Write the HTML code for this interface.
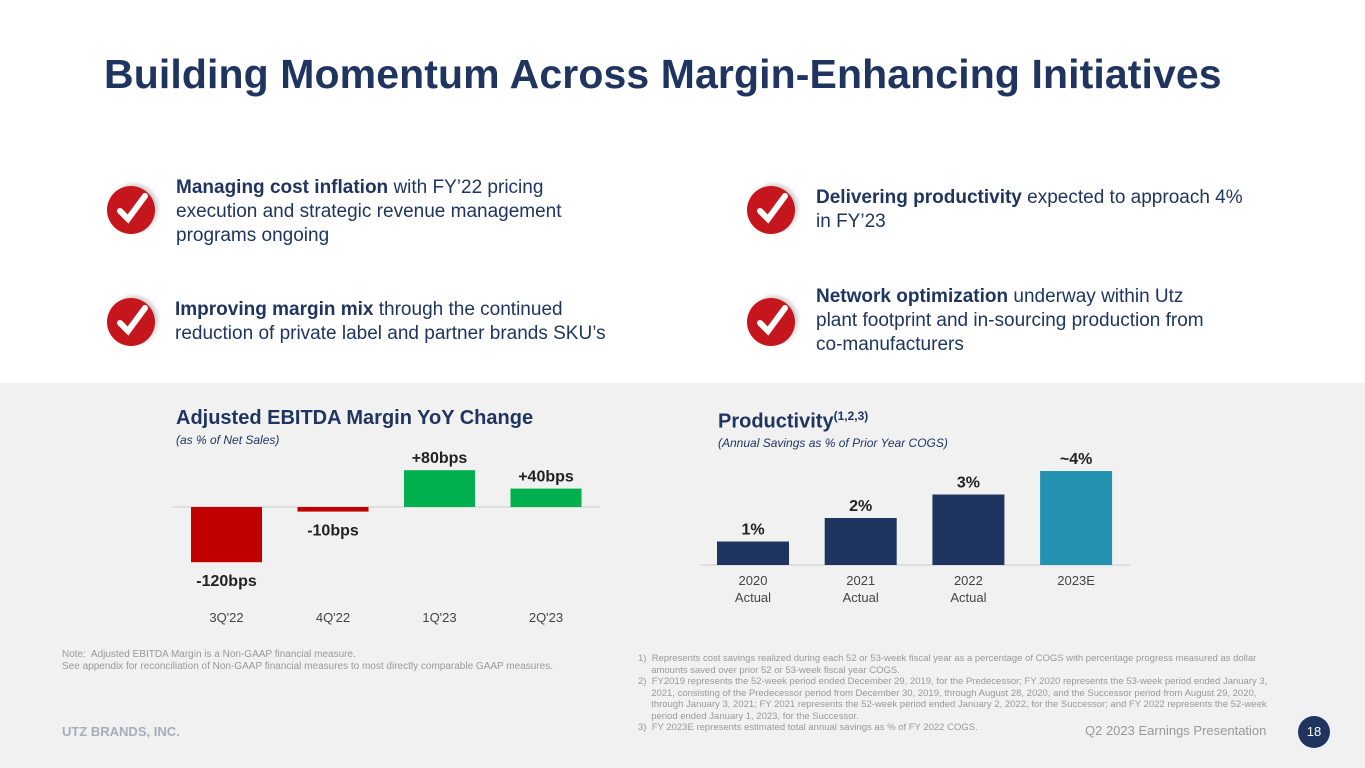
<!DOCTYPE html>
<html><head><meta charset="utf-8"><style>
body{margin:0;width:1365px;height:768px;position:relative;overflow:hidden;font-family:"Liberation Sans",sans-serif;background:#fff}
.abs{position:absolute}
.t{color:#1f3560}
.chk{position:absolute;width:48px;height:48px;border-radius:50%;background:#c4161c;box-shadow:3px -2px 4px rgba(0,0,0,.2)}
.txt{position:absolute;font-size:19px;line-height:24px;color:#1f3560}
.txt b{font-weight:bold}
.fn{position:absolute;font-size:9px;color:#999;line-height:11.5px}
</style></head><body>
<div class="abs t" style="left:104px;top:51px;font-size:41px;font-weight:bold;color:#1f3560;letter-spacing:0.1px">Building Momentum Across Margin-Enhancing Initiatives</div>

<div class="chk" style="left:107px;top:186px"><svg width="48" height="48"><path d="M13 25 L21 33 L38 10" stroke="#fff" stroke-width="6" fill="none" stroke-linecap="round"/></svg></div>
<div class="chk" style="left:107px;top:298px"><svg width="48" height="48"><path d="M13 25 L21 33 L38 10" stroke="#fff" stroke-width="6" fill="none" stroke-linecap="round"/></svg></div>
<div class="chk" style="left:747px;top:186px"><svg width="48" height="48"><path d="M13 25 L21 33 L38 10" stroke="#fff" stroke-width="6" fill="none" stroke-linecap="round"/></svg></div>
<div class="chk" style="left:747px;top:298px"><svg width="48" height="48"><path d="M13 25 L21 33 L38 10" stroke="#fff" stroke-width="6" fill="none" stroke-linecap="round"/></svg></div>

<div class="txt" style="left:176px;top:176px;width:440px"><b>Managing cost inflation</b> with FY’22 pricing<br>execution and strategic revenue management<br>programs ongoing</div>
<div class="txt" style="left:175px;top:298px;width:520px"><b>Improving margin mix</b> through the continued<br>reduction of private label and partner brands SKU’s</div>
<div class="txt" style="left:816px;top:186px;width:500px"><b>Delivering productivity</b> expected to approach 4%<br>in FY’23</div>
<div class="txt" style="left:816px;top:285px;width:480px"><b>Network optimization</b> underway within Utz<br>plant footprint and in-sourcing production from<br>co-manufacturers</div>

<div class="abs" style="left:0;top:383px;width:1365px;height:385px;background:#f1f1f1"></div>

<div class="abs t" style="left:176px;top:407px;font-size:20px;font-weight:bold">Adjusted EBITDA Margin YoY Change</div>
<div class="abs t" style="left:176px;top:433px;font-size:12px;font-style:italic">(as % of Net Sales)</div>
<div class="abs t" style="left:718px;top:409px;font-size:20px;font-weight:bold">Productivity<sup style="font-size:12px">(1,2,3)</sup></div>
<div class="abs t" style="left:718px;top:436px;font-size:12px;font-style:italic">(Annual Savings as % of Prior Year COGS)</div>

<svg class="abs" id="chart" style="left:0;top:0" width="1365" height="768"></svg>

<div class="fn" style="left:62px;top:649px;font-size:10px;line-height:12px">Note:&nbsp; Adjusted EBITDA Margin is a Non-GAAP financial measure.<br>See appendix for reconciliation of Non-GAAP financial measures to most directly comparable GAAP measures.</div>
<div class="fn" style="left:638px;top:653px;width:720px;font-size:9.5px">1)&nbsp; Represents cost savings realized during each 52 or 53-week fiscal year as a percentage of COGS with percentage progress measured as dollar<br>&nbsp;&nbsp;&nbsp;&nbsp;&nbsp;amounts saved over prior 52 or 53-week fiscal year COGS.<br>2)&nbsp; FY2019 represents the 52-week period ended December 29, 2019, for the Predecessor; FY 2020 represents the 53-week period ended January 3,<br>&nbsp;&nbsp;&nbsp;&nbsp;&nbsp;2021, consisting of the Predecessor period from December 30, 2019, through August 28, 2020, and the Successor period from August 29, 2020,<br>&nbsp;&nbsp;&nbsp;&nbsp;&nbsp;through January 3, 2021; FY 2021 represents the 52-week period ended January 2, 2022, for the Successor; and FY 2022 represents the 52-week<br>&nbsp;&nbsp;&nbsp;&nbsp;&nbsp;period ended January 1, 2023, for the Successor.<br>3)&nbsp; FY 2023E represents estimated total annual savings as % of FY 2022 COGS.</div>
<div class="abs" style="left:62px;top:724px;font-size:13px;font-weight:bold;color:#aab">UTZ BRANDS, INC.</div>
<div class="abs" style="left:1085px;top:723px;font-size:13px;color:#999">Q2 2023 Earnings Presentation</div>
<div class="abs" style="left:1298px;top:716px;width:32px;height:32px;border-radius:50%;background:#1f3560;color:#fff;font-size:13px;text-align:center;line-height:32px">18</div>

<script>
const ebitdaCats=["3Q'22","4Q'22","1Q'23","2Q'23"];
const ebitdaVals=[-120,-10,80,40];
const ebitdaLabels=["-120bps","-10bps","+80bps","+40bps"];
const prodCats=[["2020","Actual"],["2021","Actual"],["2022","Actual"],["2023E",""]];
const prodVals=[1,2,3,4];
const prodLabels=["1%","2%","3%","~4%"];
const NS="http://www.w3.org/2000/svg";
const svg=document.getElementById('chart');
function mk(t,a,txt){const e=document.createElementNS(NS,t);for(const k in a)e.setAttribute(k,a[k]);if(txt!==undefined)e.textContent=txt;svg.appendChild(e);return e;}
// left chart
const lBase=507, lScale=0.46, lX=i=>191+i*106.5, bw=71;
let ln=mk('line',{x1:172,x2:600,y1:lBase,y2:lBase,stroke:'#ccc','stroke-width':1});


ebitdaVals.forEach((v,i)=>{
  const h=Math.abs(v)*lScale, y=v>=0?lBase-h:lBase;
  const r=mk('rect',{x:lX(i),y:y,width:bw,height:h,fill:v>=0?'#00b04f':'#c00000'});
  
  
  const ly=v>=0?y-7:y+h+24;
  const t=mk('text',{x:lX(i)+bw/2,y:ly,'text-anchor':'middle','font-size':16,'font-weight':'bold',fill:'#222'},ebitdaLabels[i]);
  
  
  const c=mk('text',{x:lX(i)+bw/2,y:622,'text-anchor':'middle','font-size':13,fill:'#444'},ebitdaCats[i]);
  
  
});
// right chart
const rBase=565, rScale=23.5, rX=i=>717+i*107.7;
let ln2=mk('line',{x1:700,x2:1130,y1:rBase,y2:rBase,stroke:'#ccc','stroke-width':1});


prodVals.forEach((v,i)=>{
  const h=v*rScale;
  const r=mk('rect',{x:rX(i),y:rBase-h,width:72,height:h,fill:i===3?'#2493b1':'#1f3560'});
  
  
  const t=mk('text',{x:rX(i)+36,y:rBase-h-7,'text-anchor':'middle','font-size':16,'font-weight':'bold',fill:'#222'},prodLabels[i]);
  
  
  prodCats[i].forEach((s,j)=>{
    const c=mk('text',{x:rX(i)+36,y:585+j*17,'text-anchor':'middle','font-size':13,fill:'#444'},s);
    
    
  });
});
</script>
</body></html>
